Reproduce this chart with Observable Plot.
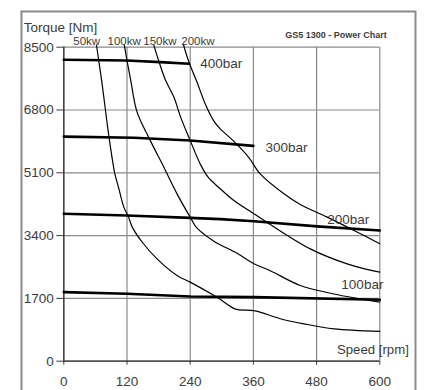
<!DOCTYPE html>
<html>
<head>
<meta charset="utf-8">
<script src="https://cdn.jsdelivr.net/npm/d3@7"></script>
<script src="https://cdn.jsdelivr.net/npm/@observablehq/plot@0.6"></script>
<style>
  html, body { margin: 0; padding: 0; background: #fff; }
  #chart { width: 426px; height: 390px; overflow: hidden; }
</style>
</head>
<body>
<div id="chart"></div>
<script>
// ---- tick values ----
const xTicks = [0, 120, 240, 360, 480, 600];
const yTicks = [0, 1700, 3400, 5100, 6800, 8500];

// ---- power curves (speed rpm / torque Nm) ----
const kw50Speed  = [62, 72, 86, 97, 104, 114, 123, 130, 149, 177, 215, 240, 291, 326, 361, 411, 456, 513, 600];
const kw50Torque = [8560, 7580, 6050, 5070, 4700, 4170, 3900, 3630, 3220, 2770, 2320, 2140, 1730, 1410, 1370, 1150, 1010, 875, 810];

const kw100Speed  = [115, 120, 127, 139, 161, 190, 215, 240, 253, 285, 329, 361, 392, 449, 513, 600];
const kw100Torque = [8550, 8140, 7610, 6750, 6066, 5250, 4530, 3900, 3600, 3250, 2920, 2640, 2450, 2050, 1820, 1600];

const kw150Speed  = [171, 180, 193, 209, 222, 240, 259, 274, 297, 323, 361, 392, 468, 538, 600];
const kw150Torque = [8550, 8140, 7610, 7150, 6600, 5975, 5340, 4980, 4670, 4350, 3990, 3700, 3040, 2635, 2410];

const kw200Speed  = [227, 237, 253, 269, 285, 297, 323, 351, 373, 418, 449, 500, 551, 600];
const kw200Torque = [8580, 8120, 7550, 6950, 6500, 6290, 5950, 5520, 5070, 4530, 4240, 3900, 3540, 3180];

// ---- pressure lines ----
const bar400Speed  = [0, 120, 183, 238];
const bar400Torque = [8160, 8140, 8095, 8050];
const bar300Speed  = [0, 133, 240, 360];
const bar300Torque = [6080, 6050, 5975, 5830];
const bar200Speed  = [0, 120, 240, 297, 361, 481, 600];
const bar200Torque = [3990, 3945, 3880, 3845, 3790, 3650, 3540];
const bar100Speed  = [0, 120, 240, 361, 600];
const bar100Torque = [1870, 1825, 1750, 1735, 1665];

// ---- labels ----
const kwNames  = ["50kw", "100kw", "150kw", "200kw"];
const kwLabelX = [18, 83, 151, 223];
const barNames  = ["400bar", "300bar", "200bar", "100bar"];
const barLabelX = [259, 383, 500, 527];
const barLabelY = [8061, 5787, 3837, 2077];

function toRows(series, speeds, torques) {
  return speeds.map((s, i) => ({series, speed: s, torque: torques[i]}));
}
const kwRows = [
  ...toRows("50kw", kw50Speed, kw50Torque),
  ...toRows("100kw", kw100Speed, kw100Torque),
  ...toRows("150kw", kw150Speed, kw150Torque),
  ...toRows("200kw", kw200Speed, kw200Torque)
];
const barRows = [
  ...toRows("400bar", bar400Speed, bar400Torque),
  ...toRows("300bar", bar300Speed, bar300Torque),
  ...toRows("200bar", bar200Speed, bar200Torque),
  ...toRows("100bar", bar100Speed, bar100Torque)
];
const kwLabels = kwNames.map((n, i) => ({name: n, x: kwLabelX[i], y: 8657}));
const barLabels = barNames.map((n, i) => ({name: n, x: barLabelX[i], y: barLabelY[i]}));

const textColor = "#3c3c3c";
const gridColor = "#8a8a8a";

const svg = Plot.plot({
  width: 426,
  height: 390,
  marginLeft: 63.3,
  marginRight: 46.7,
  marginTop: 46.7,
  marginBottom: 29.3,
  style: {
    fontFamily: "'Liberation Sans', Arial, sans-serif",
    fontSize: "13.5px",
    color: textColor,
    background: "#fff"
  },
  x: {domain: [0, 600]},
  y: {domain: [0, 8500]},
  marks: [
    Plot.gridX(xTicks, {stroke: gridColor, strokeOpacity: 1, strokeWidth: 1.2}),
    Plot.gridY(yTicks, {stroke: gridColor, strokeOpacity: 1, strokeWidth: 1.2}),
    Plot.axisX(xTicks, {tickSize: 4, tickPadding: 11, tickFormat: d => String(d), label: null, fontSize: 13.5}),
    Plot.axisY(yTicks, {tickSize: 7, tickPadding: 3, tickFormat: d => String(d), label: null, fontSize: 13.5}),
    Plot.ruleX([0], {stroke: "#333", strokeWidth: 1.3}),
    Plot.ruleY([0], {stroke: "#333", strokeWidth: 1.3}),
    Plot.line(kwRows, {x: "speed", y: "torque", z: "series", stroke: "#000", strokeWidth: 1.2, curve: "catmull-rom"}),
    Plot.line(barRows, {x: "speed", y: "torque", z: "series", stroke: "#000", strokeWidth: 2.6, curve: "linear"}),
    Plot.text(kwLabels, {x: "x", y: "y", text: "name", textAnchor: "start", fontSize: 11.5, fill: textColor}),
    Plot.text(barLabels, {x: "x", y: "y", text: "name", textAnchor: "start", fontSize: 13.5, fill: textColor}),
    Plot.text(["Speed [rpm]"], {frameAnchor: "bottom-right", dx: 29, dy: -7, textAnchor: "end", fontSize: 13.2, fill: textColor}),
    Plot.text(["Torque [Nm]"], {frameAnchor: "top-left", dx: -40, dy: -25, textAnchor: "start", fontSize: 13.5, fill: textColor}),
    Plot.text(["GS5 1300 - Power Chart"], {frameAnchor: "top-right", dx: 7, dy: -16, textAnchor: "end", fontSize: 9, fontWeight: "bold", fill: textColor})
  ]
});

d3.select(svg).append("rect")
  .attr("x", 21.5).attr("y", 11.5)
  .attr("width", 394).attr("height", 400)
  .attr("fill", "none")
  .attr("stroke", "#8a8a8a")
  .attr("stroke-width", 2);

document.getElementById("chart").appendChild(svg);
</script>
</body>
</html>
